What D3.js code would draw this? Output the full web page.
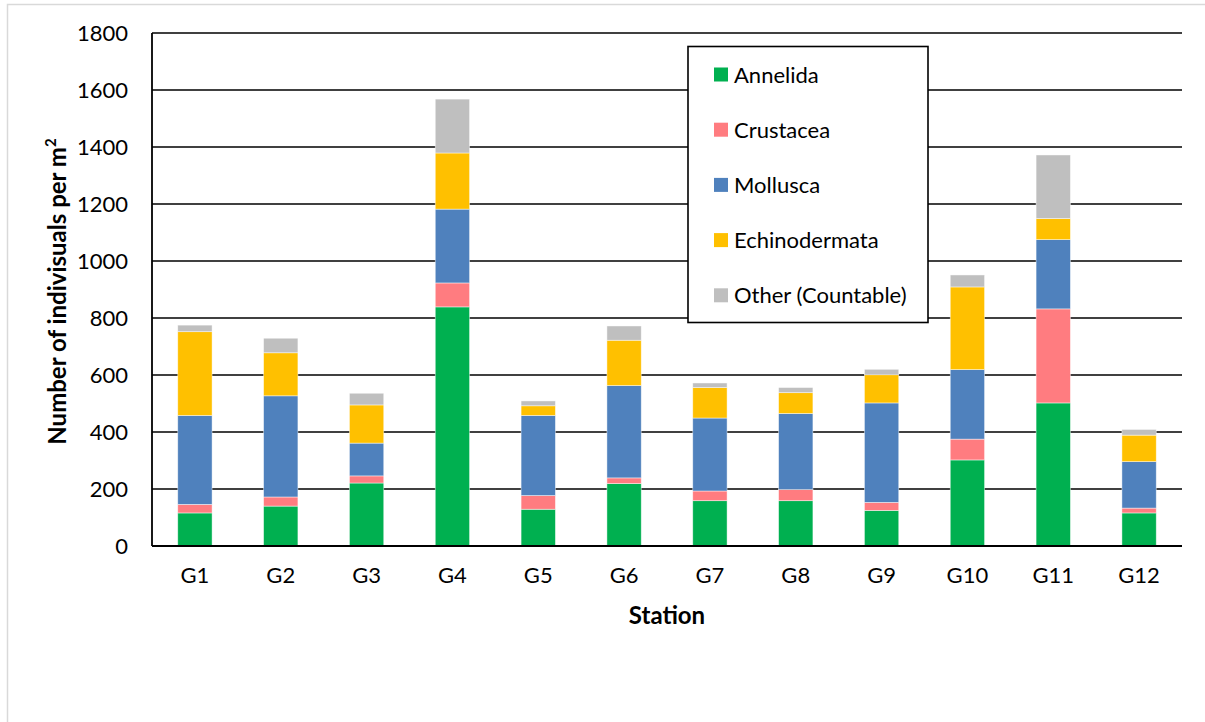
<!DOCTYPE html>
<html>
<head>
<meta charset="utf-8">
<script src="https://cdn.jsdelivr.net/npm/d3@7"></script>
<style>
  html, body { margin: 0; padding: 0; background: #fff; }
  svg { display: block; font-family: Lato, "Open Sans", sans-serif; }
</style>
</head>
<body>
<svg id="chart" width="1205" height="722"></svg>
<script>
// Stations along the x axis
const stations = ["G1","G2","G3","G4","G5","G6","G7","G8","G9","G10","G11","G12"];

// Taxa, stacked bottom to top
const taxa = ["Annelida","Crustacea","Mollusca","Echinodermata","Other (Countable)"];
const taxaColors = ["#00B050","#FF7C80","#4F81BD","#FFC000","#BFBFBF"];

// Individuals per m² at each station
const annelida      = [116, 140, 221, 839, 129, 219, 159, 159, 125, 302, 502, 116];
const crustacea     = [ 30,  32,  25,  84,  48,  20,  34,  39,  28,  73, 330,  17];
const mollusca      = [312, 355, 115, 259, 281, 324, 256, 267, 349, 244, 243, 163];
const echinodermata = [294, 151, 134, 197,  34, 159, 107,  73,  99, 290,  74,  93];
const other         = [ 23,  51,  41, 189,  17,  50,  16,  18,  19,  42, 223,  20];

// Y axis ticks
const yTicks = [0, 200, 400, 600, 800, 1000, 1200, 1400, 1600, 1800];

const seriesValues = [annelida, crustacea, mollusca, echinodermata, other];
const rows = stations.map((s, i) => {
  const r = { station: s };
  taxa.forEach((t, k) => { r[t] = seriesValues[k][i]; });
  return r;
});

const svg = d3.select("#chart");
const plot = { left: 152, right: 1182, top: 33, bottom: 546 };
const labelFont = 22;
const titleFont = 24;

// outer chart frame
svg.append("rect")
  .attr("x", 7.5).attr("y", 4.5)
  .attr("width", 1210).attr("height", 730)
  .attr("fill", "#fff").attr("stroke", "#D9D9D9").attr("stroke-width", 1.5);

const x = d3.scaleBand()
  .domain(stations)
  .range([plot.left, plot.right])
  .paddingInner(0.6).paddingOuter(0.3);

const y = d3.scaleLinear()
  .domain([0, 1800])
  .range([plot.bottom, plot.top]);

// horizontal gridlines
svg.append("g")
  .selectAll("line")
  .data(yTicks)
  .join("line")
  .attr("x1", plot.left).attr("x2", plot.right)
  .attr("y1", d => y(d)).attr("y2", d => y(d))
  .attr("stroke", "#000").attr("stroke-width", 1.6);

// stacked bars
const stack = d3.stack().keys(taxa);
const layers = stack(rows);

svg.append("g")
  .selectAll("g")
  .data(layers)
  .join("g")
  .attr("fill", (d, i) => taxaColors[i])
  .selectAll("rect")
  .data(d => d)
  .join("rect")
  .attr("x", d => x(d.data.station))
  .attr("width", x.bandwidth())
  .attr("y", d => y(d[1]))
  .attr("height", d => y(d[0]) - y(d[1]))
  .attr("stroke", "rgba(255,255,255,0.6)")
  .attr("stroke-width", 0.75);

// y axis
const yAxis = d3.axisLeft(y).tickValues(yTicks).tickFormat(d3.format("d"))
  .tickSize(0).tickPadding(24);
const gy = svg.append("g")
  .attr("transform", `translate(${plot.left},0)`)
  .call(yAxis);
gy.select(".domain").remove();
gy.selectAll("text")
  .attr("font-family", "Lato, 'Open Sans', sans-serif")
  .attr("font-size", labelFont).attr("fill", "#000");

svg.append("line")
  .attr("x1", plot.left).attr("x2", plot.left)
  .attr("y1", plot.top).attr("y2", plot.bottom)
  .attr("stroke", "#000").attr("stroke-width", 1.8);

// x axis
const xAxis = d3.axisBottom(x).tickSize(0).tickPadding(21);
const gx = svg.append("g")
  .attr("transform", `translate(0,${plot.bottom})`)
  .call(xAxis);
gx.select(".domain").remove();
gx.selectAll("text")
  .attr("font-family", "Lato, 'Open Sans', sans-serif")
  .attr("font-size", labelFont).attr("fill", "#000");

svg.append("line")
  .attr("x1", plot.left).attr("x2", plot.right)
  .attr("y1", plot.bottom).attr("y2", plot.bottom)
  .attr("stroke", "#000").attr("stroke-width", 1.8);

// axis titles
svg.append("text")
  .attr("x", (plot.left + plot.right) / 2)
  .attr("y", 624)
  .attr("text-anchor", "middle")
  .attr("font-weight", "bold").attr("font-size", titleFont)
  .text("Station");

const yTitle = svg.append("text")
  .attr("transform", `translate(66,${(plot.top + plot.bottom) / 2 + 2}) rotate(-90)`)
  .attr("text-anchor", "middle")
  .attr("font-weight", "bold").attr("font-size", titleFont);
yTitle.append("tspan").text("Number of indivisuals per m");
yTitle.append("tspan").attr("font-size", 15).attr("dy", -10).text("2");

// legend
const legend = svg.append("g");
legend.append("rect")
  .attr("x", 688).attr("y", 46.5)
  .attr("width", 240).attr("height", 276)
  .attr("fill", "#fff").attr("stroke", "#000").attr("stroke-width", 1.6);

const entries = legend.selectAll("g.entry")
  .data(taxa)
  .join("g")
  .attr("class", "entry")
  .attr("transform", (d, i) => `translate(714,${74.5 + i * 55.2})`);
entries.append("rect")
  .attr("x", 0).attr("y", -7)
  .attr("width", 14).attr("height", 14)
  .attr("fill", (d, i) => taxaColors[i]);
entries.append("text")
  .attr("x", 20).attr("y", 8)
  .attr("font-size", labelFont)
  .text(d => d);
</script>
</body>
</html>
